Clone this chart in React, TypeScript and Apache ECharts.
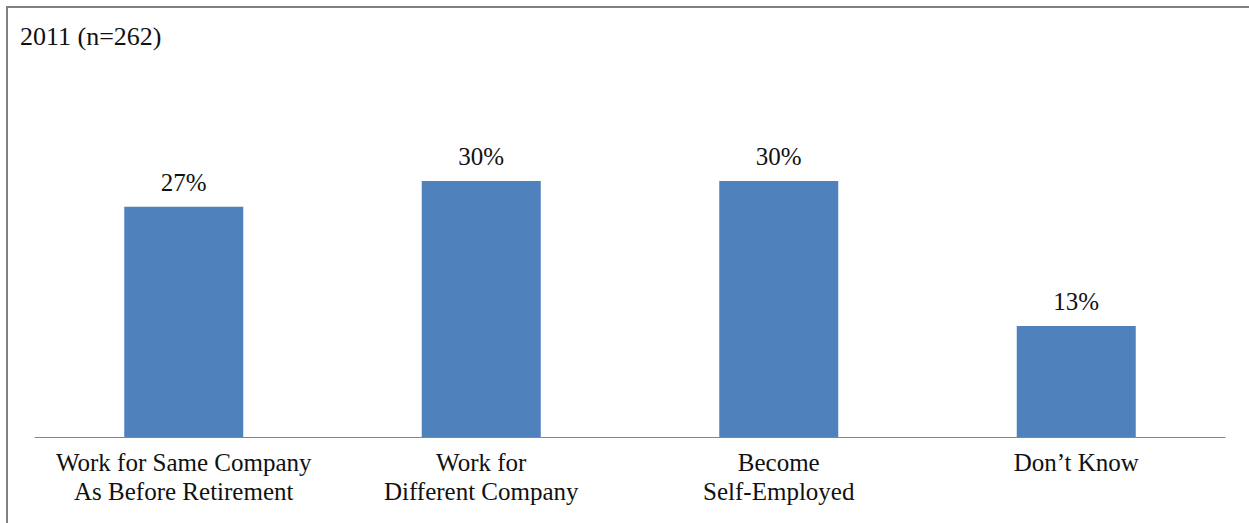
import React, { useEffect, useRef } from "react";
import * as echarts from "echarts";

const categories = [
  "Work for Same Company\nAs Before Retirement",
  "Work for\nDifferent Company",
  "Become\nSelf-Employed",
  "Don\u2019t Know",
];
const values = [27, 30, 30, 13];
const titleText = "2011 (n=262)";

export default function App() {
  const ref = useRef<HTMLDivElement>(null);
  useEffect(() => {
    if (!ref.current) return;
    const chart = echarts.init(ref.current, undefined, { renderer: "svg" });
    const font = "Liberation Serif";
    chart.setOption({
      animation: false,
      backgroundColor: "#ffffff",
      title: {
        text: titleText,
        left: 15,
        top: 18,
        textStyle: { fontFamily: font, fontSize: 26, fontWeight: "normal", color: "#111" },
      },
      graphic: [
        {
          type: "polyline",
          shape: { points: [[7, 523], [7, 7], [1249, 7]] },
          style: { stroke: "#808080", lineWidth: 2, fill: "none" },
          silent: true,
        },
      ],
      grid: { left: 35, right: 24, top: 138.4, bottom: 86 },
      xAxis: {
        type: "category",
        data: categories,
        axisLine: { lineStyle: { color: "#868686", width: 1 } },
        axisTick: { show: false },
        axisLabel: {
          fontFamily: font,
          fontSize: 25,
          color: "#111",
          lineHeight: 29,
          margin: 11,
          interval: 0,
        },
      },
      yAxis: {
        type: "value",
        min: 0,
        max: 35,
        show: false,
        splitLine: { show: false },
      },
      series: [
        {
          type: "bar",
          data: values,
          barWidth: "40%",
          itemStyle: { color: "#4F81BD" },
          label: {
            show: true,
            position: "top",
            distance: 12,
            formatter: "{c}%",
            fontFamily: font,
            fontSize: 25,
            color: "#111",
          },
        },
      ],
    });
    return () => chart.dispose();
  }, []);
  return (
    <div
      ref={ref}
      style={{ position: "absolute", left: 0, top: 0, width: 1249, height: 523 }}
    />
  );
}
